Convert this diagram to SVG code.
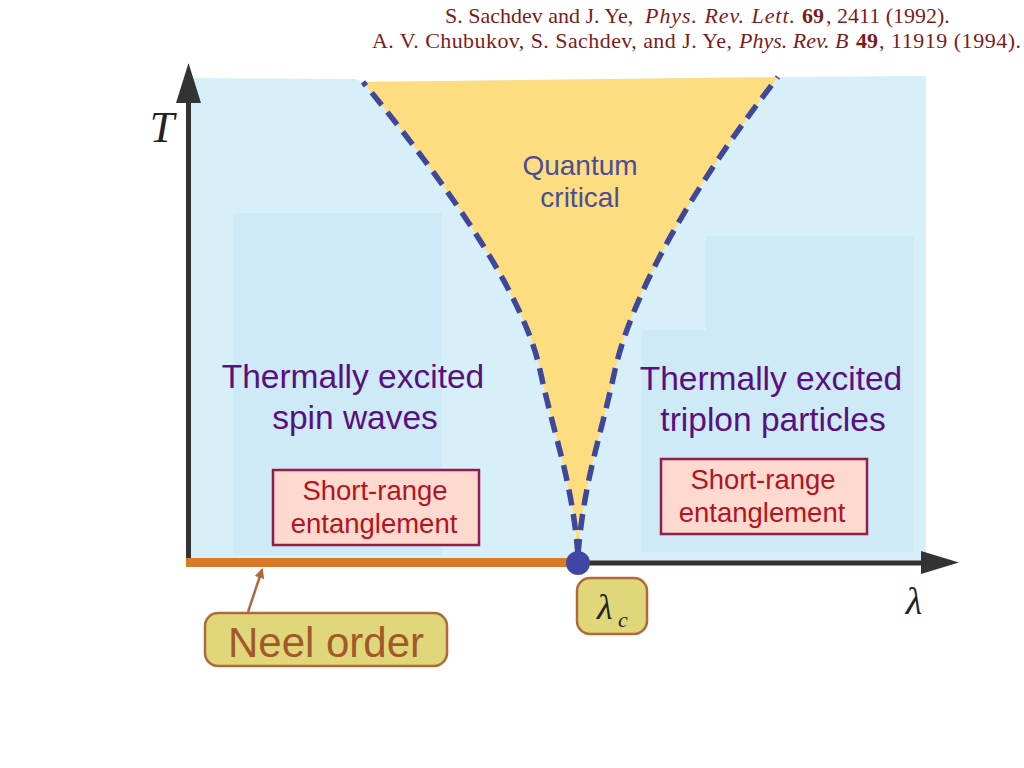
<svg xmlns="http://www.w3.org/2000/svg" width="1024" height="768" viewBox="0 0 1024 768">
<defs>
<style>
.ref{font-family:"Liberation Serif","DejaVu Serif",serif;font-size:22px;fill:#7b1c1c}
.it{font-style:italic}
.bf{font-weight:bold}
.phase{font-family:"Liberation Sans",Arial,sans-serif;font-size:33.5px;fill:#5a0f7e;text-anchor:middle}
.qc{font-family:"Liberation Sans",Arial,sans-serif;font-size:28px;fill:#4a4e96;text-anchor:middle}
.sr-box{fill:#fdd9cf;stroke:#8f1f4a;stroke-width:2.5}
.sr{font-family:"Liberation Sans",Arial,sans-serif;font-size:27.5px;fill:#b3141e;text-anchor:middle}
.tag{fill:#e0d77a;stroke:#b06a3a;stroke-width:2.5}
.math{font-family:"Liberation Serif","DejaVu Serif",serif;font-style:italic;fill:#222}
.dash{fill:none;stroke:#3e4799;stroke-width:5.5;stroke-dasharray:16 9}
.axis{stroke:#333;stroke-width:5}
</style>
<marker id="ah" markerWidth="10" markerHeight="10" refX="8" refY="5" orient="auto" markerUnits="userSpaceOnUse">
<path d="M0,0 L10,5 L0,10 Z" fill="#b06a40"/>
</marker>
</defs>
<rect width="1024" height="768" fill="#ffffff"/>

<g id="references">
<text class="ref" x="445" y="23">S. Sachdev and J. Ye,</text>
<text class="ref it" x="645" y="23" textLength="150" lengthAdjust="spacing">Phys. Rev. Lett.</text>
<text class="ref bf" x="802" y="23">69</text>
<text class="ref" x="826" y="23">, 2411 (1992).</text>
<text class="ref" x="372" y="48" textLength="360" lengthAdjust="spacing">A. V. Chubukov, S. Sachdev, and J. Ye,</text>
<text class="ref it" x="739" y="48">Phys. Rev. B</text>
<text class="ref bf" x="856" y="48">49</text>
<text class="ref" x="879" y="48" textLength="142" lengthAdjust="spacing">, 11919 (1994).</text>
</g>

<g id="background">
<path d="M190,78 L355,79 L363,82 L780,77 L926,76 L926,563 L190,563 Z" fill="#d6eff8"/>
<rect x="233" y="213" width="209" height="342" fill="#cdeaf6"/>
<rect x="706" y="236" width="208" height="316" fill="#cdeaf6"/>
<rect x="642" y="330" width="272" height="222" fill="#cdeaf6"/>
</g>

<g id="quantum-critical">
<path d="M363,82 L778,77 C690,190 632,295 615,370 C600,440 584,480 578,555 C572,480 555,440 540,370 C525,300 460,200 363,82 Z" fill="#fedc80"/>
<text class="qc" x="580" y="175">Quantum</text>
<text class="qc" x="580" y="207">critical</text>
</g>

<g id="connectors">
<path class="dash" d="M578,555 C572,480 555,440 540,370 C525,300 460,200 363,82"/>
<path class="dash" d="M578,555 C584,480 600,440 615,370 C632,295 690,190 778,77"/>
<line class="axis" x1="188.5" y1="565" x2="188.5" y2="98"/>
<path d="M176,103 L188.5,63 L201,103 Z" fill="#333"/>
<line class="axis" x1="560" y1="563" x2="925" y2="563"/>
<path d="M921,551 L959,562.5 L921,574 Z" fill="#333"/>
<rect x="186" y="558" width="385" height="9" fill="#d97a28"/>
<line x1="248" y1="612" x2="262" y2="570" stroke="#b06a40" stroke-width="2.5" marker-end="url(#ah)"/>
<circle cx="578" cy="563" r="12" fill="#4046a6"/>
</g>

<g id="axis-labels">
<text class="math" x="162" y="142" font-size="44" text-anchor="middle">T</text>
<text class="math" x="914" y="614" font-size="38" text-anchor="middle">λ</text>
</g>

<g id="spin-waves">
<text class="phase" x="353" y="388">Thermally excited</text>
<text class="phase" x="355" y="429">spin waves</text>
</g>

<g id="triplons">
<text class="phase" x="771" y="390">Thermally excited</text>
<text class="phase" x="773" y="431">triplon particles</text>
</g>

<g id="sr-left">
<rect class="sr-box" x="273" y="470" width="206" height="75"/>
<text class="sr" x="375" y="500">Short-range</text>
<text class="sr" x="374" y="533">entanglement</text>
</g>

<g id="sr-right">
<rect class="sr-box" x="661" y="459" width="206" height="75"/>
<text class="sr" x="763" y="489">Short-range</text>
<text class="sr" x="762" y="522">entanglement</text>
</g>

<g id="neel-order">
<rect class="tag" x="205" y="613" width="242" height="53" rx="13"/>
<text x="326" y="657" font-family="'Liberation Sans',Arial,sans-serif" font-size="42" fill="#a3582a" text-anchor="middle">Neel order</text>
</g>

<g id="lambda-c">
<rect class="tag" x="577" y="578" width="70" height="56" rx="13"/>
<text class="math" x="597" y="619" font-size="36">λ</text>
<text class="math" x="618" y="627" font-size="22">c</text>
</g>
</svg>
